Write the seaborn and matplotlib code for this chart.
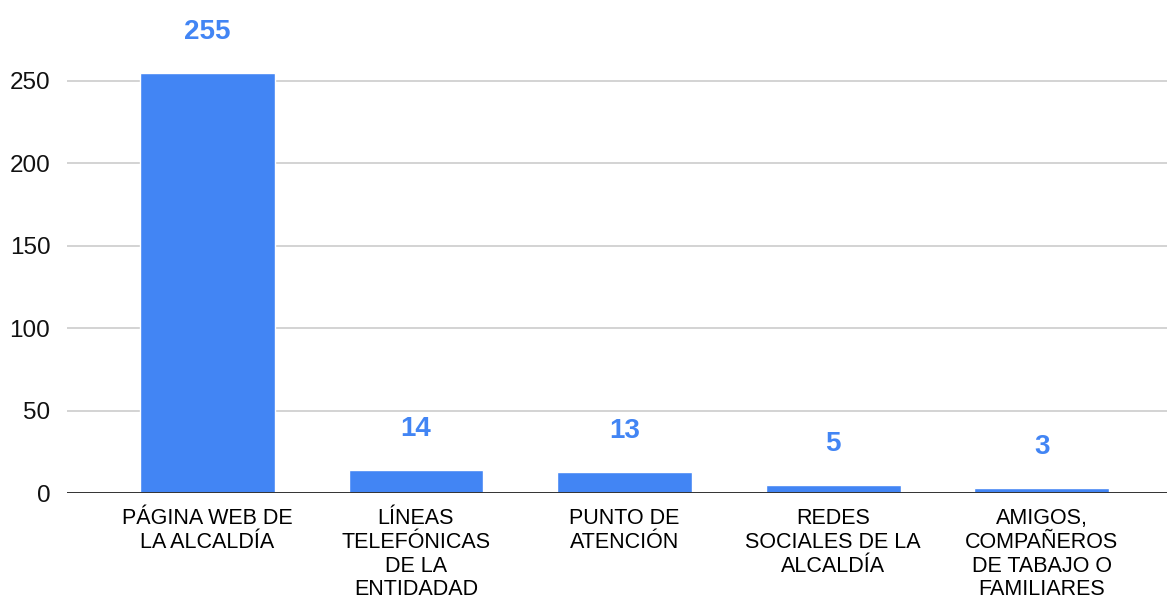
import matplotlib
matplotlib.use("Agg")
import matplotlib.pyplot as plt
import seaborn as sns
import pandas as pd

# Chart data
categories = [
    "PÁGINA WEB DE\nLA ALCALDÍA",
    "LÍNEAS\nTELEFÓNICAS\nDE LA\nENTIDADAD",
    "PUNTO DE\nATENCIÓN",
    "REDES\nSOCIALES DE LA\nALCALDÍA",
    "AMIGOS,\nCOMPAÑEROS\nDE TABAJO O\nFAMILIARES",
]
values = [255, 14, 13, 5, 3]
y_ticks = [0, 50, 100, 150, 200, 250]

BAR_COLOR = "#4285F4"

sns.set_theme(style="white")
plt.rcParams["font.family"] = ["Liberation Sans", "DejaVu Sans"]

df = pd.DataFrame({"canal": categories, "total": values})

fig = plt.figure(figsize=(11.67, 6.01), dpi=100)
ax = fig.add_axes([0.0574, 0.1797, 0.9426, 0.8203])

sns.barplot(data=df, x="canal", y="total", color=BAR_COLOR, saturation=1,
            width=0.647, ax=ax, zorder=3)

ax.set_ylim(0, 299)
ax.set_xlim(-0.673, 4.6)
ax.set_yticks(y_ticks)
ax.yaxis.grid(True, color="#cccccc", linewidth=1.2, zorder=0)
ax.axhline(0, color="#333333", linewidth=1.4, zorder=4)

for side in ["top", "right", "left", "bottom"]:
    ax.spines[side].set_visible(False)

ax.tick_params(axis="y", length=0, pad=12, labelsize=17.5, labelcolor="#111111")
ax.tick_params(axis="x", length=0, pad=11, labelsize=15.5, labelcolor="#000000")
for lbl in ax.get_xticklabels():
    lbl.set_linespacing(1.17)

ax.set_xlabel("")
ax.set_ylabel("")

# value labels above the bars
for i, v in enumerate(values):
    ax.annotate(str(v), xy=(i, v), xytext=(0, 20), textcoords="offset points",
                ha="center", va="bottom", fontsize=20, fontweight="bold",
                color=BAR_COLOR)

fig.savefig("out.png", dpi=100)
